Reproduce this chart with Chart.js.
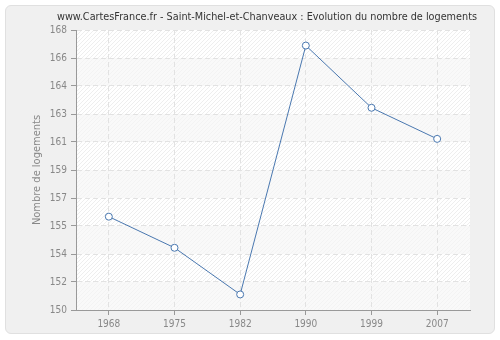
<!DOCTYPE html>
<html>
<head>
<meta charset="utf-8">
<script src="https://cdn.jsdelivr.net/npm/chart.js@4"></script>
<style>
  html, body { margin: 0; padding: 0; background: #fff; }
  #wrap { position: relative; width: 500px; height: 340px; }
  #panel { position: absolute; left: 5px; top: 5px; width: 488px; height: 327px;
           background: #f0f0f0; border: 1px solid #e0e0e0; border-radius: 6px; }
  canvas { position: absolute; left: 0; top: 0; }
</style>
</head>
<body>
<div id="wrap">
  <div id="panel"></div>
  <canvas id="chart" width="500" height="340"></canvas>
</div>
<script>
const title = "www.CartesFrance.fr - Saint-Michel-et-Chanveaux : Evolution du nombre de logements";
const yTitle = "Nombre de logements";
const years = ["1968", "1975", "1982", "1990", "1999", "2007"];
const logements = [156, 154, 151, 167, 163, 161];
const yTickValues = [150, 151.8, 153.6, 155.4, 157.2, 159, 160.8, 162.6, 164.4, 166.2, 168];

const font = "DejaVu Sans Condensed";

function hatchPattern(ctx, bg, line) {
    const c = document.createElement("canvas");
    c.width = 4; c.height = 4;
    const p = c.getContext("2d");
    p.fillStyle = bg;
    p.fillRect(0, 0, 4, 4);
    p.strokeStyle = line;
    p.lineWidth = 1;
    p.beginPath();
    p.moveTo(0, 4); p.lineTo(4, 0);
    p.moveTo(-2, 2); p.lineTo(2, -2);
    p.moveTo(2, 6); p.lineTo(6, 2);
    p.stroke();
    return ctx.createPattern(c, "repeat");
}

const decor = {
    id: "decor",
    beforeDraw(chart) {
        const { ctx, chartArea: a, scales } = chart;
        const strong = hatchPattern(ctx, "#ffffff", "#eeeeee");
        const light = hatchPattern(ctx, "#f9f9f9", "#f3f3f3");
        ctx.save();
        const vals = yTickValues.slice().reverse();
        for (let i = 0; i < vals.length - 1; i++) {
            const y1 = scales.y.getPixelForValue(vals[i]);
            const y2 = scales.y.getPixelForValue(vals[i + 1]);
            ctx.fillStyle = i % 2 === 0 ? strong : light;
            ctx.fillRect(a.left, y1, a.right - a.left, y2 - y1);
        }
        ctx.restore();
    },
    afterDraw(chart) {
        const { ctx, chartArea: a } = chart;
        ctx.save();
        ctx.fillStyle = "#333";
        ctx.font = "11px '" + font + "'";
        ctx.textAlign = "center";
        ctx.textBaseline = "middle";
        ctx.fillText(title, 267, 17, 420);
        ctx.fillStyle = "#888";
        ctx.translate(37, (a.top + a.bottom) / 2);
        ctx.rotate(-Math.PI / 2);
        ctx.fillText(yTitle, 0, 0);
        ctx.restore();
    }
};

new Chart(document.getElementById("chart"), {
    type: "line",
    data: {
        labels: years,
        datasets: [{
            data: logements,
            borderColor: "#4a78b0",
            borderWidth: 1,
            pointBackgroundColor: "#fff",
            pointBorderColor: "#4a78b0",
            pointBorderWidth: 1,
            pointRadius: 3.5,
            tension: 0
        }]
    },
    options: {
        responsive: false,
        animation: false,
        layout: { padding: { left: 0, right: 30, top: 30, bottom: 0 } },
        plugins: { legend: { display: false }, title: { display: false }, tooltip: { enabled: false } },
        scales: {
            x: {
                type: "category",
                offset: true,
                afterFit: s => { s.height = 30; },
                grid: { color: "#e2e2e2", tickColor: "#999", tickLength: 5 },
                border: { color: "#999", dash: [5, 3] },
                ticks: { color: "#888", font: { family: font, size: 10 }, padding: 3 }
            },
            y: {
                min: 150,
                max: 168,
                afterFit: s => { s.width = 76; },
                afterBuildTicks: s => { s.ticks = yTickValues.map(v => ({ value: v })); },
                grid: { color: "#e2e2e2", tickColor: "#999", tickLength: 5 },
                border: { color: "#999", dash: [5, 3] },
                ticks: {
                    color: "#888",
                    font: { family: font, size: 10 },
                    padding: 4,
                    callback: v => String(Math.round(v))
                }
            }
        }
    },
    plugins: [decor]
});
</script>
</body>
</html>
